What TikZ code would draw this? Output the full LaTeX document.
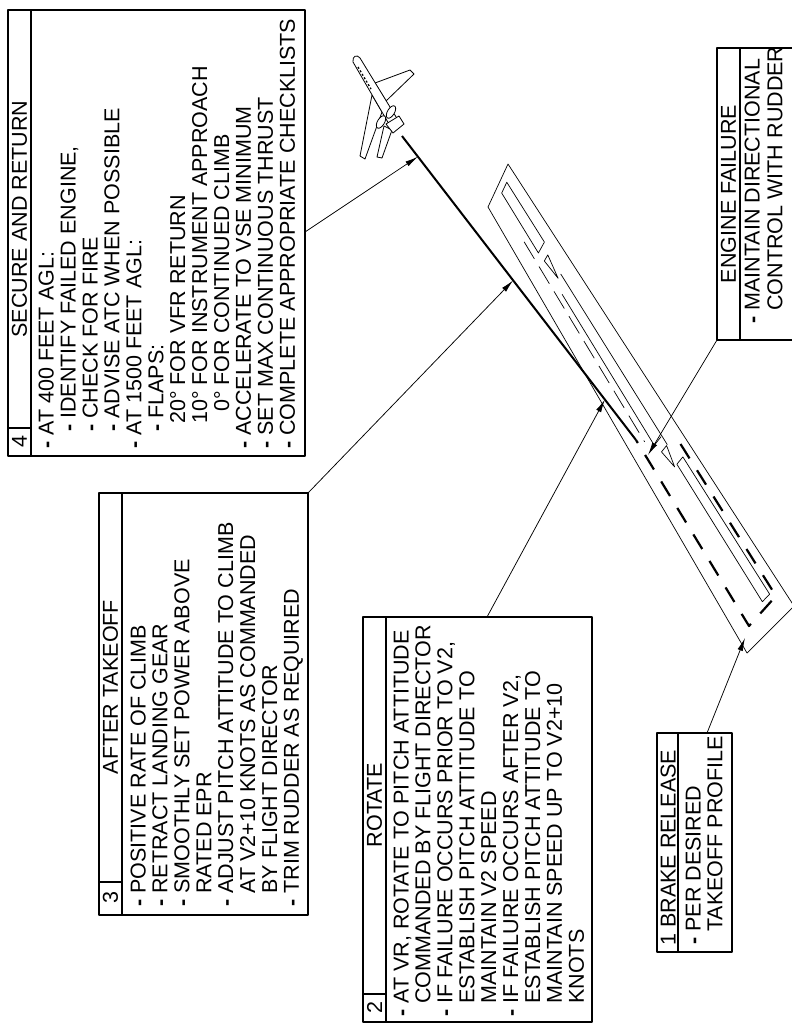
\documentclass[tikz,border=0pt]{standalone}
\usepackage{fontspec}
\setmainfont{Liberation Sans}
\usetikzlibrary{arrows.meta,calc}
\newcommand\hng{\phantom{\textbf{-}\ }}
\newcommand\dsh{\textbf{-}\ }
\newcommand\rw[2]{({(1-#1)*((1-#2)*488+#2*508)+#1*((1-#2)*747+#2*794)},{(1-#1)*((1-#2)*207+#2*164)+#1*((1-#2)*653+#2*606)})}
\begin{document}
\begin{tikzpicture}[x=1bp,y=-1bp,line join=round,
 box/.style={draw,line width=1.1bp},
 tx/.style={rotate=90,anchor=north west,align=left,inner sep=0pt,font=\fontsize{21.6}{22}\selectfont},
 hd/.style={rotate=90,anchor=center,inner sep=0pt,font=\fontsize{21.6}{22}\selectfont},
 conn/.style={line width=0.75bp,-{Latex[length=13bp,width=5.5bp]}},
 rwl/.style={line width=0.7bp},
 gnd/.style={line width=2.2bp,dash pattern=on 17bp off 14bp},
 pl/.style={draw,fill=white,line width=0.8bp}]
\useasboundingbox (0,0) rectangle (792,1026);

% ---------- box 4
\draw[box] (8,10) rectangle (305,456);
\draw[box] (31,10) -- (31,456);
\draw[box] (8,428) -- (31,428);
\node[hd] (n4) at (19.5,442) {4};
\node[hd] (h4) at (19.5,219) {SECURE AND RETURN};
\node[tx] (t4) at (38.5,449) {\dsh AT 400 FEET AGL:\\
\hspace*{17bp}\dsh IDENTIFY FAILED ENGINE,\\
\hspace*{17bp}\dsh CHECK FOR FIRE\\
\hspace*{17bp}\dsh ADVISE ATC WHEN POSSIBLE\\
\dsh AT 1500 FEET AGL:\\
\hspace*{17bp}\dsh FLAPS:\\
\hspace*{25bp}20° FOR VFR RETURN\\
\hspace*{25bp}10° FOR INSTRUMENT APPROACH\\
\hspace*{25bp}\phantom{1}0° FOR CONTINUED CLIMB\\
\dsh ACCELERATE TO VSE MINIMUM\\
\dsh SET MAX CONTINUOUS THRUST\\
\dsh COMPLETE APPROPRIATE CHECKLISTS};
\coordinate (b4) at (305,232);

% ---------- box 3
\draw[box] (99,493) rectangle (308,915);
\draw[box] (122,493) -- (122,915);
\draw[box] (99,882) -- (122,882);
\node[hd] (n3) at (110.5,898) {3};
\node[hd] (h3) at (110.5,687) {AFTER TAKEOFF};
\node[tx] (t3) at (130.3,907) {\dsh POSITIVE RATE OF CLIMB\\
\dsh RETRACT LANDING GEAR\\
\dsh SMOOTHLY SET POWER ABOVE\\
\hng RATED EPR\\
\dsh ADJUST PITCH ATTITUDE TO CLIMB\\
\hng AT V2+10 KNOTS AS COMMANDED\\
\hng BY FLIGHT DIRECTOR\\
\dsh TRIM RUDDER AS REQUIRED};
\coordinate (b3) at (308,493);

% ---------- box 2
\draw[box] (363,617) rectangle (592,1022);
\draw[box] (386,617) -- (386,1022);
\draw[box] (363,994) -- (386,994);
\node[hd] (n2) at (374.5,1008) {2};
\node[hd] (h2) at (374.5,805) {ROTATE};
\node[tx] (t2) at (393.3,1017) {\dsh AT VR, ROTATE TO PITCH ATTITUDE\\
\hng COMMANDED BY FLIGHT DIRECTOR\\
\dsh IF FAILURE OCCURS PRIOR TO V2,\\
\hng ESTABLISH PITCH ATTITUDE TO\\
\hng MAINTAIN V2 SPEED\\
\dsh IF FAILURE OCCURS AFTER V2,\\
\hng ESTABLISH PITCH ATTITUDE TO\\
\hng MAINTAIN SPEED UP TO V2+10\\
\hng KNOTS};
\coordinate (b2) at (487,617);

% ---------- box 1
\draw[box] (657,733) rectangle (732,952);
\draw[box] (678,733) -- (678,952);
\node[tx] (h1) at (660.3,946) {1 BRAKE RELEASE};
\node[tx] (t1) at (685.3,945) {\dsh PER DESIRED\\ \hng TAKEOFF PROFILE};
\coordinate (b1) at (707,733);

% ---------- engine failure box
\draw[box] (717,48) rectangle (800,340);
\draw[box] (740,48) -- (740,340);
\node[hd] (he) at (728.5,194) {ENGINE FAILURE};
\node[tx,font=\fontsize{21.6}{23}\selectfont] (te) at (744.3,324) {\dsh MAINTAIN DIRECTIONAL\\ \hng CONTROL WITH RUDDER};
\coordinate (be) at (717,340);

% ---------- runway
\draw[rwl] (488,207) -- (508,164) -- (794,606) -- (747,653) -- cycle;
\draw[rwl] \rw{0.015}{0.48} -- \rw{0.015}{0.73} -- \rw{0.15}{0.73} -- \rw{0.15}{0.48} -- cycle;
\draw[rwl] \rw{0.17}{0.50} -- \rw{0.17}{0.64} -- \rw{0.215}{0.56} -- cycle;
\draw[rwl] \rw{0.215}{0.66} -- \rw{0.6}{0.66};
\draw[rwl] \rw{0.24}{0.45} -- \rw{0.58}{0.45};
\draw[rwl] \rw{0.58}{0.40} -- \rw{0.58}{0.64};
\draw[rwl] \rw{0.6}{0.50} -- \rw{0.6}{0.64} -- \rw{0.64}{0.56} -- cycle;
\draw[rwl] \rw{0.64}{0.62} -- \rw{0.64}{0.78} -- \rw{0.95}{0.78} -- \rw{0.95}{0.62} -- cycle;
\draw[rwl,dash pattern=on 20bp off 9bp] \rw{0.11}{0.33} -- \rw{0.56}{0.33};

% ---------- flight path
\coordinate (T0) at (402,136);
\coordinate (T1) at (636,440);
\draw[line width=2bp] (T0) -- (T1);
\draw[gnd] (680.5,444) -- (776,596) -- (749,626) -- (T1);

% ---------- aircraft
\draw[pl] (372,95) -- (360,156) -- (365,159) -- (382,112) -- cycle;
\draw[pl] (384,126) -- (377,157) -- (382,158) -- (392,130) -- cycle;
\draw[pl] (375,83) -- (410,70) -- (414,74) -- (386,101) -- cycle;
\draw[pl] (353,62) .. controls (352,56) and (357,54) .. (360,58) -- (401,125) -- (393,131) -- cycle;
\draw[pl,rotate around={59:(391,112)}] (391,112) ellipse (7bp and 3.5bp);
\draw[pl,rotate around={59:(381,122)}] (381,122) ellipse (7bp and 3.5bp);
\draw[pl] (386,124) -- (399,116) -- (404,124) -- (393,133) -- cycle;
\draw[line width=1.3bp,dash pattern=on 2bp off 2bp] (358,67) -- (371,89);

% ---------- connectors
\coordinate (a4) at ($(T0)!0.068!(T1)$);
\coordinate (a3) at ($(T0)!0.475!(T1)$);
\coordinate (a2) at ($(T0)!0.867!(T1)$);
\coordinate (ae) at (648,455);
\coordinate (a1) at (745,638);
\draw[conn] (b4) -- (a4);
\draw[conn] (b3) -- (a3);
\draw[conn] (b2) -- (a2);
\draw[conn] (be) -- (ae);
\draw[conn] (b1) -- (a1);
\end{tikzpicture}
\end{document}
